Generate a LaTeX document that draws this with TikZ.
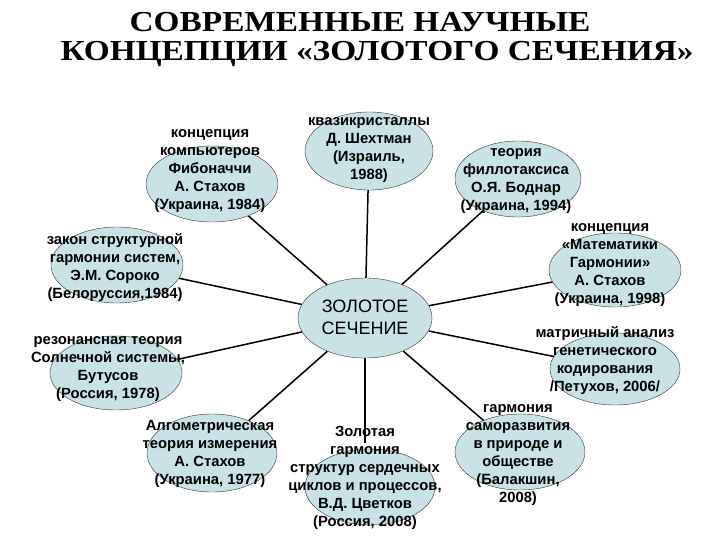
\documentclass[tikz,border=0pt]{standalone}
\usepackage{fontspec}
\setmainfont{Liberation Sans}
\newfontfamily\titlefont{Liberation Serif}
\usetikzlibrary{shapes.geometric}
\definecolor{blobfill}{RGB}{200,226,230}

\begin{document}
\begin{tikzpicture}[x=1pt,y=-1pt,
  blob/.style={ellipse, draw=black!80, fill=blobfill, inner sep=0pt,
    minimum width=132pt, minimum height=76pt},
  txt/.style={align=center, inner sep=0pt,
    font=\bfseries\fontsize{14.8}{18}\selectfont},
  headline/.style={font=\titlefont\bfseries\fontsize{29}{32}\selectfont, xscale=1.15, transform shape},
  spoke/.style={line width=1.5pt}
]
\useasboundingbox (0,0) rectangle (720,540);

%% title
\node[headline] (title1) at (360,22) {СОВРЕМЕННЫЕ НАУЧНЫЕ};
\node[headline] (title2) at (377,54) {КОНЦЕПЦИИ «ЗОЛОТОГО СЕЧЕНИЯ»};

%% ellipses
\node[blob, minimum width=134pt, minimum height=80pt] (gold) at (365,318) {};
\node[blob, minimum width=128pt, minimum height=78pt] (quasi) at (369,151) {};
\node[blob] (fibo) at (212,184) {};
\node[blob, minimum width=126pt] (phyllo) at (518,179) {};
\node[blob] (soroko) at (117,265) {};
\node[blob, minimum height=74pt] (harmony) at (615,270) {};
\node[blob, minimum height=74pt] (reson) at (116,373) {};
\node[blob, minimum width=130pt, minimum height=72pt] (matrix) at (615,369) {};
\node[blob, minimum width=130pt, minimum height=78pt] (algo) at (212,453) {};
\node[blob, minimum width=130pt] (heart) at (370,487) {};
\node[blob, minimum width=130pt] (selfdev) at (520,452) {};

%% spokes
\foreach \n in {quasi,fibo,phyllo,soroko,harmony,reson,matrix,algo,selfdev}
  \draw[spoke] (gold) -- (\n);
\draw[spoke] (gold) -- (365,443);

%% texts
\node[font=\fontsize{18}{22}\selectfont, align=center] (goldtxt) at (365,317) {ЗОЛОТОЕ\\СЕЧЕНИЕ};
\node[txt] (quasitxt) at (369,150) {квазикристаллы\\Д. Шехтман\\(Израиль,\\1988)};
\node[txt] (fibotxt) at (210,171) {концепция\\компьютеров\\Фибоначчи\\А. Стахов\\(Украина, 1984)};
\node[txt] (phyllotxt) at (516,181) {теория\\филлотаксиса\\О.Я. Боднар\\(Украина, 1994)};
\node[txt] (sorokotxt) at (115,268) {закон структурной\\гармонии систем,\\Э.М. Сороко\\(Белоруссия,1984)};
\node[txt] (harmonytxt) at (610,265) {концепция\\«Математики\\Гармонии»\\А. Стахов\\(Украина, 1998)};
\node[txt] (resontxt) at (108,369) {резонансная теория\\Солнечной системы,\\Бутусов\\(Россия, 1978)};
\node[txt] (matrixtxt) at (605,361) {матричный анализ\\генетического\\кодирования\\/Петухов, 2006/};
\node[txt] (algotxt) at (210,454) {Алгометрическая\\теория измерения\\А. Стахов\\(Украина, 1977)};
\node[txt] (hearttxt) at (365,478) {Золотая\\гармония\\структур сердечных\\циклов и процессов,\\В.Д. Цветков\\(Россия, 2008)};
\node[txt] (selfdevtxt) at (518,455) {гармония\\саморазвития\\в природе и\\обществе\\(Балакшин,\\2008)};
\end{tikzpicture}
\end{document}
